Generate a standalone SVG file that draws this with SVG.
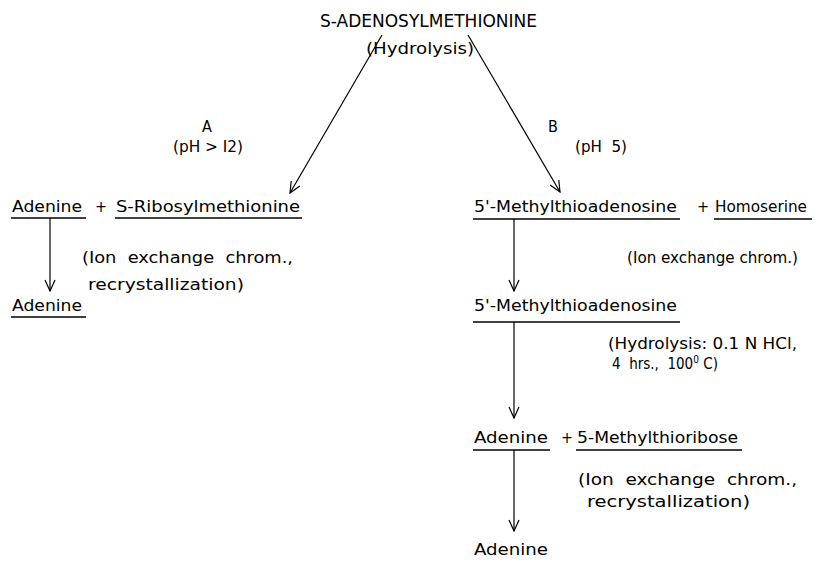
<svg xmlns="http://www.w3.org/2000/svg" width="818" height="563" viewBox="0 0 818 563">
<defs>
<marker id="ah" markerWidth="14" markerHeight="14" viewBox="-13 -7 14 14" refX="0" refY="0" orient="auto" markerUnits="userSpaceOnUse">
<path d="M-11,-5 L0,0 L-11,5" fill="none" stroke="#000" stroke-width="1.2"/>
</marker>
</defs>
<style>
text{font-family:"DejaVu Sans Condensed","Liberation Sans Narrow","Liberation Sans",sans-serif;font-size:16px;fill:#000}
.t{font-size:17px}
.s{font-size:15px}
.u{stroke:#000;stroke-width:1.3}
.c{stroke:#000;stroke-width:1.2;fill:none}
</style>
<rect width="818" height="563" fill="#fff"/>
<g id="sam"><text class="t" x="320" y="27" textLength="217" lengthAdjust="spacingAndGlyphs">S-ADENOSYLMETHIONINE</text></g>
<g id="hydrolysis"><text x="366" y="54" textLength="108" lengthAdjust="spacingAndGlyphs">(Hydrolysis)</text></g>
<g id="labelA"><text x="202" y="132">A</text><text x="173" y="152" textLength="70" lengthAdjust="spacingAndGlyphs">(pH &gt; I2)</text></g>
<g id="labelB"><text x="548" y="132">B</text><text x="575" y="152" textLength="52" lengthAdjust="spacingAndGlyphs" xml:space="preserve">(pH  5)</text></g>
<g id="a_adenine1"><text x="12" y="212" textLength="70" lengthAdjust="spacingAndGlyphs">Adenine</text><line class="u" x1="11" y1="218" x2="86" y2="218"/></g>
<g id="a_plus"><text x="95" y="212">+</text></g>
<g id="a_srm"><text x="116" y="212" textLength="184" lengthAdjust="spacingAndGlyphs">S-Ribosylmethionine</text><line class="u" x1="115" y1="218" x2="302" y2="218"/></g>
<g id="a_cond"><text x="82" y="263" textLength="211" lengthAdjust="spacingAndGlyphs" xml:space="preserve">(Ion  exchange  chrom.,</text><text x="88" y="290" textLength="156" lengthAdjust="spacingAndGlyphs">recrystallization)</text></g>
<g id="a_adenine2"><text x="12" y="311" textLength="70" lengthAdjust="spacingAndGlyphs">Adenine</text><line class="u" x1="11" y1="317" x2="86" y2="317"/></g>
<g id="b_mta1"><text x="474" y="212" textLength="203" lengthAdjust="spacingAndGlyphs">5'-Methylthioadenosine</text><line class="u" x1="473" y1="219" x2="680" y2="219"/></g>
<g id="b_plus"><text x="697" y="212">+</text></g>
<g id="b_hs"><text x="715" y="212" textLength="92" lengthAdjust="spacingAndGlyphs">Homoserine</text><line class="u" x1="714" y1="219" x2="812" y2="219"/></g>
<g id="b_cond1"><text x="627" y="263" textLength="171" lengthAdjust="spacingAndGlyphs">(Ion exchange chrom.)</text></g>
<g id="b_mta2"><text x="474" y="311" textLength="203" lengthAdjust="spacingAndGlyphs">5'-Methylthioadenosine</text><line class="u" x1="473" y1="322" x2="680" y2="322"/></g>
<g id="b_cond2"><text class="s" x="608" y="349" textLength="189" lengthAdjust="spacingAndGlyphs">(Hydrolysis: 0.1 N HCl,</text><text class="s" x="612" y="369" xml:space="preserve">4  hrs.,  100<tspan dy="-6" font-size="10">0</tspan><tspan dy="6"> C)</tspan></text></g>
<g id="b_adenine1"><text x="474" y="443" textLength="74" lengthAdjust="spacingAndGlyphs">Adenine</text><line class="u" x1="473" y1="450" x2="550" y2="450"/></g>
<g id="b_plus2"><text x="561" y="443">+</text></g>
<g id="b_mtr"><text x="577" y="443" textLength="161" lengthAdjust="spacingAndGlyphs">5-Methylthioribose</text><line class="u" x1="576" y1="450" x2="742" y2="450"/></g>
<g id="b_cond3"><text x="578" y="485" textLength="219" lengthAdjust="spacingAndGlyphs" xml:space="preserve">(Ion  exchange  chrom.,</text><text x="587" y="507" textLength="163" lengthAdjust="spacingAndGlyphs">recrystallization)</text></g>
<g id="b_adenine2"><text x="474" y="555" textLength="74" lengthAdjust="spacingAndGlyphs">Adenine</text></g>
<g id="connectors">
<line class="c" x1="382" y1="35" x2="290" y2="193" marker-end="url(#ah)"/>
<line class="c" x1="468" y1="35" x2="560" y2="192" marker-end="url(#ah)"/>
<line class="c" x1="50" y1="218" x2="50" y2="291" marker-end="url(#ah)"/>
<line class="c" x1="514" y1="219" x2="514" y2="291" marker-end="url(#ah)"/>
<line class="c" x1="514" y1="322" x2="514" y2="418" marker-end="url(#ah)"/>
<line class="c" x1="514" y1="450" x2="514" y2="531" marker-end="url(#ah)"/>
</g>
</svg>
